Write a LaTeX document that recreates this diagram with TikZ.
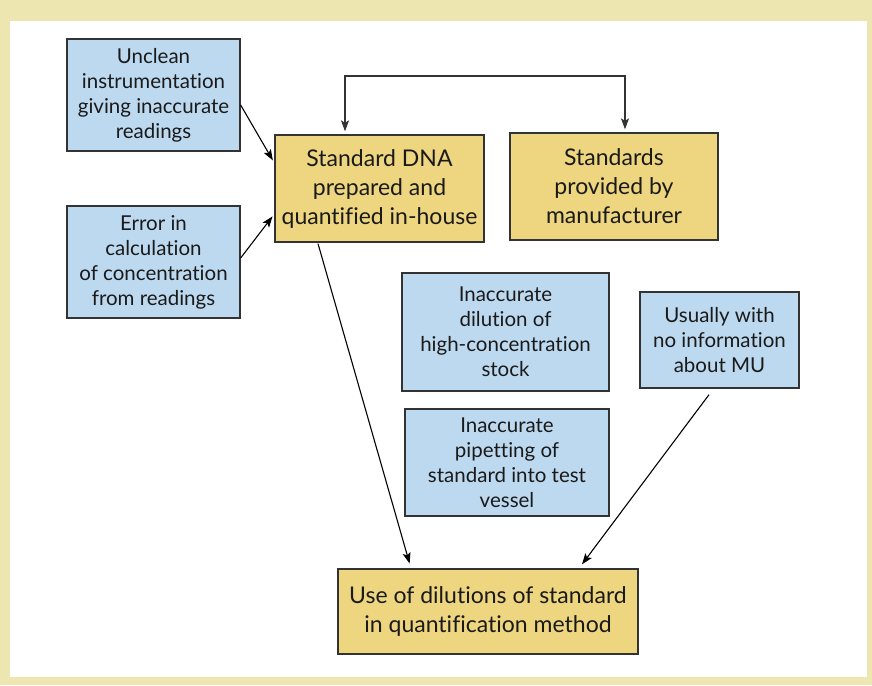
\documentclass[tikz,border=0pt]{standalone}
\usepackage{fontspec}
\setmainfont{Lato}[Ligatures={NoCommon}]
\usetikzlibrary{arrows.meta,calc}
\definecolor{framebeige}{HTML}{EDE6B0}
\definecolor{causeblue}{HTML}{BDD9EF}
\definecolor{stdgold}{HTML}{EDD67F}
\definecolor{edgegray}{HTML}{333333}
\definecolor{inkblack}{HTML}{1A1A1A}
\tikzset{
  causebox/.style={draw=edgegray, line width=1.3pt, fill=causeblue, align=center,
    inner sep=0pt, text=inkblack, font=\fontsize{20.5}{25}\selectfont},
  stdbox/.style={draw=edgegray, line width=1.3pt, fill=stdgold, align=center,
    inner sep=0pt, text=inkblack, font=\fontsize{23}{29}\selectfont},
  flow/.style={draw=black, line width=1.1pt,
    -{Stealth[length=11pt,width=8pt,inset=2.5pt]}},
  bothflow/.style={draw=edgegray, line width=1.3pt,
    {Stealth[length=11pt,width=8pt,inset=2.5pt]}-{Stealth[length=11pt,width=8pt,inset=2.5pt]}}
}
\begin{document}
\begin{tikzpicture}[x=1pt,y=-1pt]
  % frame and panel
  \fill[framebeige] (0,0) rectangle (872,685);
  \fill[white] (10,21) rectangle (867,677);
  \useasboundingbox (0,0) rectangle (872,685);

  % causes
  \node[causebox, minimum width=173pt, minimum height=112pt] (unclean) at (153.5,95)
    {Unclean\\instrumentation\\giving inaccurate\\readings};
  \node[causebox, minimum width=173pt, minimum height=112pt] (calc) at (153.5,262)
    {Error in\\calculation\\of concentration\\from readings};
  \node[causebox, minimum width=207pt, minimum height=118pt] (dilution) at (505.5,332)
    {Inaccurate\\dilution of\\high-concentration\\stock};
  \node[causebox, minimum width=204pt, minimum height=107pt] (pipette) at (507,462.5)
    {Inaccurate\\pipetting of\\standard into test\\vessel};
  \node[causebox, minimum width=159pt, minimum height=96pt] (nomu) at (719.5,340)
    {Usually with\\no information\\about MU};

  % standards and use
  \node[stdbox, minimum width=209pt, minimum height=107pt] (inhouse) at (379.5,188.5)
    {Standard DNA\\prepared and\\quantified in-house};
  \node[stdbox, minimum width=208pt, minimum height=107pt] (maker) at (614,186.5)
    {Standards\\provided by\\manufacturer};
  \node[stdbox, minimum width=300pt, minimum height=85pt] (use) at (488,611.5)
    {Use of dilutions of standard\\in quantification method};

  % connectors
  \draw[flow, shorten >=3pt] ([yshift=-10pt]unclean.east) -- ([yshift=25.5pt]inhouse.west);
  \draw[flow, shorten >=3pt] ([yshift=4pt]calc.east) -- ([yshift=-25.5pt]inhouse.west);

  \coordinate (bend) at (345,76);
  \draw[bothflow] ([shift={(-34.5pt,3pt)}]inhouse.north) |- (bend) -| ([shift={(11pt,3pt)}]maker.north);

  \draw[flow, shorten >=5pt] ([shift={(-61.5pt,-1pt)}]inhouse.south) -- ([xshift=-77pt]use.north);
  \draw[flow, shorten >=5pt] ([shift={(-10.5pt,-6pt)}]nomu.south) -- ([xshift=91pt]use.north);
\end{tikzpicture}
\end{document}
